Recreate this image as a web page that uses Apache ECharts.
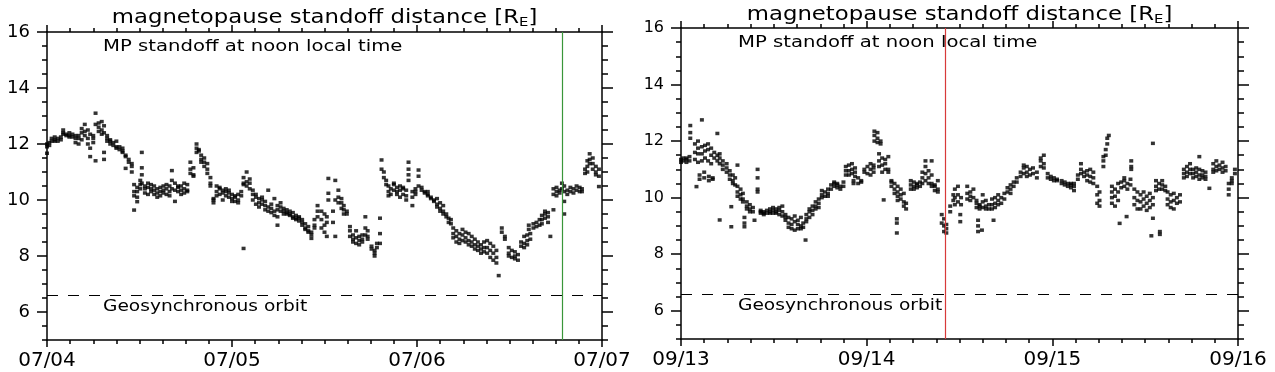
<!DOCTYPE html>
<html>
<head>
<meta charset="utf-8">
<script src="https://cdn.jsdelivr.net/npm/echarts@6/dist/echarts.min.js"></script>
<style>
html,body{margin:0;padding:0;background:#fff;}
#chart{width:1275px;height:372px;}
</style>
</head>
<body>
<div id="chart"></div>
<script>
// ---------- data (hours since start of first day, followed by standoff values in R_E) ----------
const dayLabelsLeft = ['07/04', '07/05', '07/06', '07/07'];
const dayLabelsRight = ['09/13', '09/14', '09/15', '09/16'];
const yLabelValues = [6, 8, 10, 12, 14, 16];
const geoOrbit = 6.6;
const markerLeftHour = 66.9;
const markerRightHour = 34.1;
const titleText = 'magnetopause standoff distance [R{e|E}]';
const noteText = 'MP standoff at noon local time';
const geoText = 'Geosynchronous orbit';

const leftGroups = [
[0.0,12.0,11.9,11.67],[0.3,12.05,11.95],[0.6,12.1,12.2],[1.0,12.15,12.1,12.25],[1.4,12.2,12.1],
[1.8,12.25,12.15],[2.1,12.5,12.4,12.35],[2.5,12.35,12.3],[2.9,12.3,12.25,12.4],[3.3,12.25,12.35],
[3.7,12.2,12.3,12.05],[4.1,12.0,12.3,12.2],[4.5,12.55,12.4,12.15],[4.9,12.7,12.45,12.3],[5.3,12.5,12.2,12.0],
[5.6,11.85,11.55,12.35],[6.0,12.3,12.2,12.05],[6.3,13.1,12.7,11.4],[6.7,12.75,12.6,12.45],[7.1,12.8,12.5,12.35],
[7.4,12.65,12.4,11.7,11.45],[7.8,12.2,12.1,12.3],[8.2,12.15,12.0,12.1],[8.6,12.05,11.95],[9.0,12.1,11.9,11.85],
[9.4,11.9,11.8],[9.8,11.75,11.7,11.85],[10.2,11.6,11.55,11.13],[10.6,11.45,11.35],[11.0,11.3,11.2,11.0],
[11.3,10.55,10.3,10.15,9.64],[11.7,10.45,10.3,10.1,9.94],[12.1,10.7,10.55,10.4],[12.3,11.7,11.15,10.9,10.6],
[12.7,10.5,10.25,10.4],[13.1,10.6,10.45,10.2],[13.5,10.4,10.3,10.55],[13.9,10.5,10.2,10.35],[14.3,10.4,10.25,10.1],
[14.7,10.45,10.3,10.15],[15.1,10.5,10.35,10.25],[15.5,10.4,10.2,10.55],[15.9,10.3,10.15,10.5],[16.2,11.05,10.7,10.4],
[16.6,10.6,10.35,9.95],[17.0,10.5,10.3,10.45],[17.4,10.5,10.35,10.2],[17.8,10.6,10.4,10.25],[18.2,10.55,10.35,10.3],
[18.6,11.35,11.1,10.95],[19.0,11.15,10.9,10.85],[19.4,12.0,11.85,11.7],[19.7,11.8,11.75],[20.0,11.6,11.45,11.35],
[20.4,11.5,11.2,11.35],[20.8,11.1,10.95,11.3],[21.2,10.8,10.6,10.5],[21.6,10.0,9.9,10.05],[22.0,10.5,10.3,10.15],
[22.4,10.4,10.2,10.45],[22.8,10.35,10.25,10.0],[23.2,10.4,10.15,10.3],[23.6,10.25,10.1,10.35],[24.0,10.2,10.05,9.95],
[24.4,10.1,9.95,10.15],[24.8,10.0,9.9,10.2],[25.2,10.3,10.15],[25.5,10.55,10.8,10.6,8.27],[25.9,10.65,10.5,11.0],
[26.3,10.6,10.4,10.75],[26.7,10.2,10.0,10.35],[27.1,10.1,9.85,10.2],[27.5,10.05,9.9,9.75],[27.9,10.0,9.85,10.1],
[28.3,9.8,9.65,9.95],[28.7,10.35,9.75,9.6],[29.1,9.85,9.7,9.55],[29.5,10.05,9.6,9.45],[29.9,9.8,9.65,9.4,9.1],
[30.3,9.9,9.75,9.6],[30.7,9.7,9.6,9.5],[31.1,9.65,9.55,9.5],[31.5,9.6,9.5,9.45],[31.9,9.55,9.4,9.35],
[32.3,9.45,9.35,9.3],[32.7,9.35,9.25,9.4],[33.1,9.2,9.1,9.3],[33.5,9.0,9.15,8.95],[33.9,8.9,9.05,8.85],
[34.3,8.75,8.85,8.63],[34.7,9.3,9.1,9.0],[35.1,9.8,9.6,9.4],[35.6,9.6,9.3,9.0],[36.0,9.5,9.1,8.85],
[36.3,9.4,9.2,8.7],[36.5,10.77,10.24,10.0],[37.1,9.6,9.2],[37.4,10.7,10.0,8.7],[37.8,10.35,10.1,9.9],
[38.2,9.9,9.7,10.05],[38.5,9.8,9.65,9.5],[38.9,9.5,9.6],[39.3,9.05,8.9,8.7],[39.7,8.75,8.6,8.5],
[40.1,8.9,8.65,8.45],[40.5,8.7,8.55,8.4],[40.9,8.6,8.5,8.75],[41.3,9.4,9.0,8.75],[41.6,8.7,8.6,8.9],
[42.1,8.35,8.25],[42.5,8.1,8.0,8.2],[42.8,8.3,8.45],[43.2,9.35,8.8,8.45],[43.4,11.43,11.1],
[43.7,11.0,10.8],[44.0,10.7,10.55],[44.3,10.5,10.3,10.15],[44.6,10.4,10.2],[45.0,10.55,10.35,10.6],
[45.4,10.45,10.3,10.2],[45.8,10.5,10.35,10.1],[46.2,10.4,10.2,10.45],[46.6,10.35,10.15,10.0],[46.9,11.35,11.1,10.7,10.9],
[47.4,10.3,10.1,9.8],[47.8,10.4,10.2,10.3],[48.2,11.07,10.85,10.5],[48.6,10.45,10.35],[49.0,10.3,10.25],
[49.4,10.2,10.15,10.3],[49.8,10.1,10.05],[50.2,10.0,9.95],[50.6,9.85,9.75,10.05],[51.0,9.7,9.6,9.9],
[51.4,9.6,9.5,9.8],[51.8,9.5,9.4],[52.1,9.35,9.2],[52.4,9.15,9.3],[52.7,9.0,8.8,8.65],
[53.1,8.9,8.7,8.5],[53.5,8.8,8.6,8.45],[53.9,8.95,8.75,8.55],[54.3,8.85,8.65,8.5],[54.7,8.8,8.55,8.4],
[55.1,8.7,8.5,8.35],[55.5,8.6,8.4,8.25],[55.9,8.5,8.35,8.2],[56.3,8.4,8.25,8.1],[56.7,8.3,8.15,8.5],
[57.1,8.55,8.3,8.1],[57.5,8.45,8.2,7.95],[57.9,8.35,8.1,7.85],[58.3,8.2,7.95,7.75],[58.6,7.3],
[59.0,9.0,8.85],[59.4,8.7,8.6],[59.9,8.3,8.1,8.0],[60.3,8.2,7.95],[60.7,8.0,7.9,8.15],
[61.1,8.05,7.85],[61.5,8.5,8.35],[61.9,8.7,8.45,8.3],[62.3,8.75,8.55,8.4],[62.5,9.1,8.95],
[62.7,8.8,8.6],[63.1,9.15,9.0],[63.5,9.2,9.05],[63.9,9.1,9.3],[64.2,9.45,9.3,9.15],
[64.6,9.5,9.35,9.6],[65.0,9.55,9.4,9.2],[65.3,8.7],[65.7,10.4,10.2,9.65],[66.1,10.45,10.3,10.15],
[66.5,10.35,10.25],[66.8,10.6,10.4],[67.1,10.5,10.3,9.95,9.5],[67.5,10.35,10.2],[67.9,10.45,10.3],
[68.3,10.4,10.25],[68.7,10.5,10.35],[69.1,10.45,10.3],[69.4,10.4,10.3],[69.8,11.1,10.95],
[70.1,11.4,11.2,11.0],[70.4,11.65,11.45,11.3],[70.8,11.3,11.1,11.5],[71.2,11.2,11.0,10.9],[71.6,11.1,10.48,10.85]
];

const rightGroups = [
[0.0,11.35,11.25],[0.3,11.4,11.3],[0.7,11.35,11.25,11.4],[1.1,11.3,11.45],[1.2,12.55,12.3,12.1],
[1.8,11.9,11.6,11.35],[2.0,10.39],[2.2,11.75,11.55,11.25,12.0],[2.4,10.8,10.65],[2.7,12.75,11.8,11.55,11.3],
[3.0,10.9,10.7],[3.1,11.85,11.65,11.4],[3.5,11.9,11.7,11.3],[3.6,10.75,10.6],[3.9,11.75,11.5,11.2],
[4.1,10.7,10.65],[4.3,11.6,11.4],[4.7,12.27,11.5,11.3],[5.0,11.4,11.2,11.55,9.21],[5.4,11.3,11.15,11.0],
[5.9,11.05,10.9,11.2],[6.3,10.95,10.8,10.65],[6.5,8.97,9.68],[6.7,10.8,10.6,10.5],[7.0,10.7,10.45],
[7.3,10.4,10.2,10.05,11.15],[7.7,10.3,10.1,9.95],[8.0,10.15,9.95,9.85],[8.2,9.3,9.1,8.97],[8.5,9.85,9.7,9.6],
[8.9,9.75,9.6,9.5],[9.3,9.65,9.5],[9.5,9.2],[9.9,11.0,10.7,10.3,10.2],[10.3,9.55,9.45,9.5],
[10.7,9.5,9.4,9.45],[11.1,9.55,9.45],[11.5,9.6,9.45,9.5],[11.9,9.55,9.45,9.65],[12.3,9.6,9.5,9.45],
[12.7,9.65,9.55,9.4],[13.1,9.7,9.5,9.35],[13.5,9.4,9.3,9.2],[13.9,9.3,9.1,8.95],[14.3,9.25,9.05,8.9],
[14.7,9.35,9.15,8.85],[15.1,9.2,9.05,8.9],[15.5,9.3,9.0,8.9],[15.8,9.1,8.95],[16.1,8.5],
[16.2,9.4,9.25,9.15],[16.6,9.5,9.3,9.6],[17.0,9.7,9.55,9.4],[17.4,9.85,9.7,9.6],[17.8,9.95,9.8,9.65],
[18.2,10.1,10.0,10.25],[18.6,10.2,10.05],[19.0,10.3,10.15,10.05],[19.4,10.45,10.3],[19.8,10.55,10.4,10.5],
[20.2,10.5,10.35,10.45],[20.6,10.4,10.3],[21.0,10.55,10.4],[21.3,10.8,10.95,11.1],[21.7,11.15,10.95,10.8],
[22.1,11.2,11.0,10.85],[22.3,10.6,10.5],[22.5,11.05,10.9,10.75],[22.9,10.7,10.5],[23.3,10.6,10.55],
[23.7,10.9,11.0],[24.1,11.1,10.85],[24.5,11.0,10.8,11.2],[24.9,11.15,11.05,10.9],[25.0,12.35,12.2,12.0],
[25.4,12.3,12.1,11.95],[25.6,11.55,11.3,11.1],[25.8,12.0,11.9],[26.0,11.4,11.15,10.9],[26.2,9.92],
[26.4,11.35,11.0,11.2],[26.8,11.45,11.0,10.9],[27.2,10.55,10.4,10.6],[27.6,10.5,10.3,10.15],[27.9,9.25,9.1,8.75],
[28.0,10.4,10.2,10.05,9.9],[28.4,10.3,10.1,9.95],[28.8,10.15,9.85,9.7],[29.1,9.8,9.6],[29.7,10.6,10.45,10.3],
[30.1,10.55,10.4,10.3],[30.5,10.5,10.35,10.45],[30.9,10.55,10.4],[31.2,10.9,10.7,10.5],[31.6,11.1,10.85,10.6,11.3],
[32.0,10.95,10.7,10.5],[32.4,11.3,10.8,10.5,10.4],[32.8,10.4,10.25,10.45],[33.2,10.3,10.2,10.6],[33.7,9.4,9.1],
[34.0,9.25,9.0,8.8],[34.3,8.9,8.75,9.05],[34.8,9.7,9.5],[35.2,10.1,9.9],[35.4,10.3,10.0,9.75],
[35.8,10.4,10.1,9.85],[36.1,9.4,9.15],[36.2,10.0,9.75],[37.0,10.4,10.15,9.95],[37.4,10.2,9.9,10.05],
[37.8,10.3,10.0],[38.2,9.8,9.65,9.9],[38.4,9.2,9.0,8.8],[38.6,9.75,9.6,9.7],[38.9,8.85],
[39.0,9.85,9.65,10.1],[39.4,9.7,9.6,9.9],[39.8,9.75,9.6],[40.2,9.95,9.75,9.6],[40.4,9.2],
[40.6,10.0,9.8,9.65],[41.0,10.1,9.9,9.75],[41.4,10.0,9.8],[41.8,10.15,9.95],[42.2,10.2,10.35],
[42.6,10.45,10.3,10.15],[43.0,10.55,10.4],[43.4,10.7,10.55],[43.9,10.9,10.75],[44.3,11.05,10.85,11.15],
[44.7,11.1,10.9,10.75],[45.1,11.0,10.8],[45.5,10.85,11.05],[46.0,10.9,10.7],[46.5,11.3,11.1,11.4],
[46.9,11.5,11.2,11.05],[47.4,10.85,10.7],[47.8,10.75,10.65],[48.2,10.7,10.6],[48.6,10.65,10.6],
[49.2,10.6,10.5],[49.6,10.55,10.45],[50.0,10.5,10.4],[50.4,10.45,10.35,10.5],[50.8,10.5,10.4,10.25],
[51.3,10.8,10.65],[51.7,11.0,10.85,11.2],[52.1,10.9,10.75],[52.5,10.95,10.8,10.6],[52.9,11.0,10.75,10.55],
[53.3,10.9,10.7,10.5],[53.8,10.4,10.1,9.8],[54.1,10.2,9.9,9.7],[54.6,11.3,11.1,11.45],[54.9,11.7,11.5],
[55.1,11.9,12.1],[55.3,12.2],[55.7,10.4,10.2,10.0,9.8],[56.1,10.3,10.05,9.7],[56.5,10.5,10.2,9.9],
[56.7,9.09],[56.9,10.55,10.35],[57.3,10.6,10.4,10.7],[57.6,9.33],[57.7,10.5,10.3],
[58.1,10.65,10.45],[58.2,11.3,11.1,11.0],[58.6,10.3,10.0,9.75],[59.0,10.2,9.9,9.6],[59.4,10.1,9.85,9.6],
[59.8,10.2,9.95,9.7],[60.2,10.05,9.8,9.55],[60.6,10.15,9.9,9.65],[60.8,8.65],[61.0,10.0,9.75,11.92,9.27],
[61.4,10.6,10.4,10.25],[61.8,10.5,10.3],[61.9,8.7,8.8],[62.2,10.45,10.3,10.6],[62.6,10.4,10.25],
[62.9,10.2,9.95,9.75],[63.3,10.1,9.85,9.65],[63.7,10.15,9.9,9.6],[64.1,10.0,9.8],[64.5,10.1,9.85],
[65.0,10.85,10.7,11.0],[65.4,11.1,10.9,10.75],[65.8,11.2,11.0,10.85],[66.2,11.0,10.85,10.7],[66.6,11.05,10.9,10.75],
[67.0,11.0,10.8,10.65,11.45],[67.4,10.95,10.8,10.7],[67.8,10.9,10.75,10.65],[68.3,10.33],[68.8,11.2,11.0,10.9],
[69.2,11.3,11.1,10.95],[69.6,11.15,11.0],[70.0,11.25,11.05,10.9],[70.4,11.1,10.95],[70.8,10.5,10.3,10.1],
[71.2,10.7,10.5,10.6],[71.6,11.0,10.85]
];

// ---------- chart ----------
const FONT = 'DejaVu Sans';
const BLACK = '#000';
const flatten = groups => groups.flatMap(g => g.slice(1).map(v => [g[0], v]));

const grids = [
  {left: 47, top: 32, width: 555, height: 308},
  {left: 681, top: 28, width: 557, height: 311}
];

function xAxes(gi, labels) {
  const base = {
    type: 'value', gridIndex: gi, min: 0, max: 72, interval: 24,
    axisLine: {show: true, onZero: false, lineStyle: {color: BLACK, width: 1.5}},
    axisTick: {show: true, length: 7, lineStyle: {color: BLACK, width: 1.5}},
    minorTick: {show: true, splitNumber: 8, length: 4, lineStyle: {color: BLACK, width: 1.5}},
    splitLine: {show: false}, minorSplitLine: {show: false}
  };
  return [
    Object.assign({}, base, {position: 'bottom',
      axisLabel: {show: true, showMinLabel: true, showMaxLabel: true, color: BLACK, fontFamily: FONT, fontSize: 20, margin: 11,
        formatter: v => labels[Math.round(v / 24)]}}),
    Object.assign({}, base, {position: 'top', axisLabel: {show: false}})
  ];
}

function yAxes(gi, labelSize) {
  const line = {color: BLACK, width: 1.5};
  const common = {type: 'value', gridIndex: gi, min: 5, max: 16, splitLine: {show: false}};
  return [
    Object.assign({}, common, {position: 'left',
      axisLine: {show: true, onZero: false, lineStyle: line},
      axisTick: {show: true, length: 10, customValues: yLabelValues, lineStyle: line},
      axisLabel: {show: true, customValues: yLabelValues, color: BLACK, fontFamily: FONT, fontSize: labelSize, margin: 17}}),
    Object.assign({}, common, {position: 'left', interval: 0.5,
      axisLine: {show: false, onZero: false},
      axisTick: {show: true, length: 5, lineStyle: line},
      axisLabel: {show: false}}),
    Object.assign({}, common, {position: 'right',
      axisLine: {show: true, onZero: false, lineStyle: line},
      axisTick: {show: true, length: 11, customValues: yLabelValues, lineStyle: line},
      axisLabel: {show: false}}),
    Object.assign({}, common, {position: 'right', interval: 0.5,
      axisLine: {show: false, onZero: false},
      axisTick: {show: true, length: 6, lineStyle: line},
      axisLabel: {show: false}})
  ];
}

function panelSeries(gi, groups, markerHour, markerColor) {
  return {
    type: 'scatter', xAxisIndex: gi * 2, yAxisIndex: gi * 4,
    data: flatten(groups), symbol: 'rect', symbolSize: [4, 3.5],
    itemStyle: {color: BLACK}, silent: true, animation: false,
    markLine: {
      silent: true, symbol: 'none', animation: false, label: {show: false},
      data: [
        {yAxis: geoOrbit, lineStyle: {color: BLACK, width: 1, type: [11, 10], opacity: 1}},
        {xAxis: markerHour, lineStyle: {color: markerColor, width: 1.2, type: 'solid', opacity: 1}}
      ]
    }
  };
}

function txt(x, y, text, size, scaleX, align) {
  return {
    type: 'text', x: x, y: y, scaleX: scaleX, silent: true,
    style: {
      text: text, fill: BLACK, fontFamily: FONT, fontSize: size,
      align: align, verticalAlign: 'middle', textAlign: align, textVerticalAlign: 'middle',
      rich: {e: {fontSize: 13, fontFamily: FONT, fill: BLACK, padding: [9, 0, 0, 0]}}
    }
  };
}

const chart = echarts.init(document.getElementById('chart'), null, {renderer: 'canvas'});
chart.setOption({
  animation: false,
  backgroundColor: '#fff',
  grid: grids,
  xAxis: xAxes(0, dayLabelsLeft).concat(xAxes(1, dayLabelsRight)),
  yAxis: yAxes(0, 18).concat(yAxes(1, 16)),
  series: [
    panelSeries(0, leftGroups, markerLeftHour, '#3a963a'),
    panelSeries(1, rightGroups, markerRightHour, '#d83a3a')
  ],
  graphic: [
    txt(324.5, 18, titleText, 20, 1.14, 'center'),
    txt(959.5, 15, titleText, 20, 1.14, 'center'),
    txt(103, 47, noteText, 15, 1.31, 'left'),
    txt(738, 43, noteText, 15, 1.31, 'left'),
    txt(103, 307, geoText, 15, 1.24, 'left'),
    txt(738, 306, geoText, 15, 1.24, 'left')
  ]
});
</script>
</body>
</html>
